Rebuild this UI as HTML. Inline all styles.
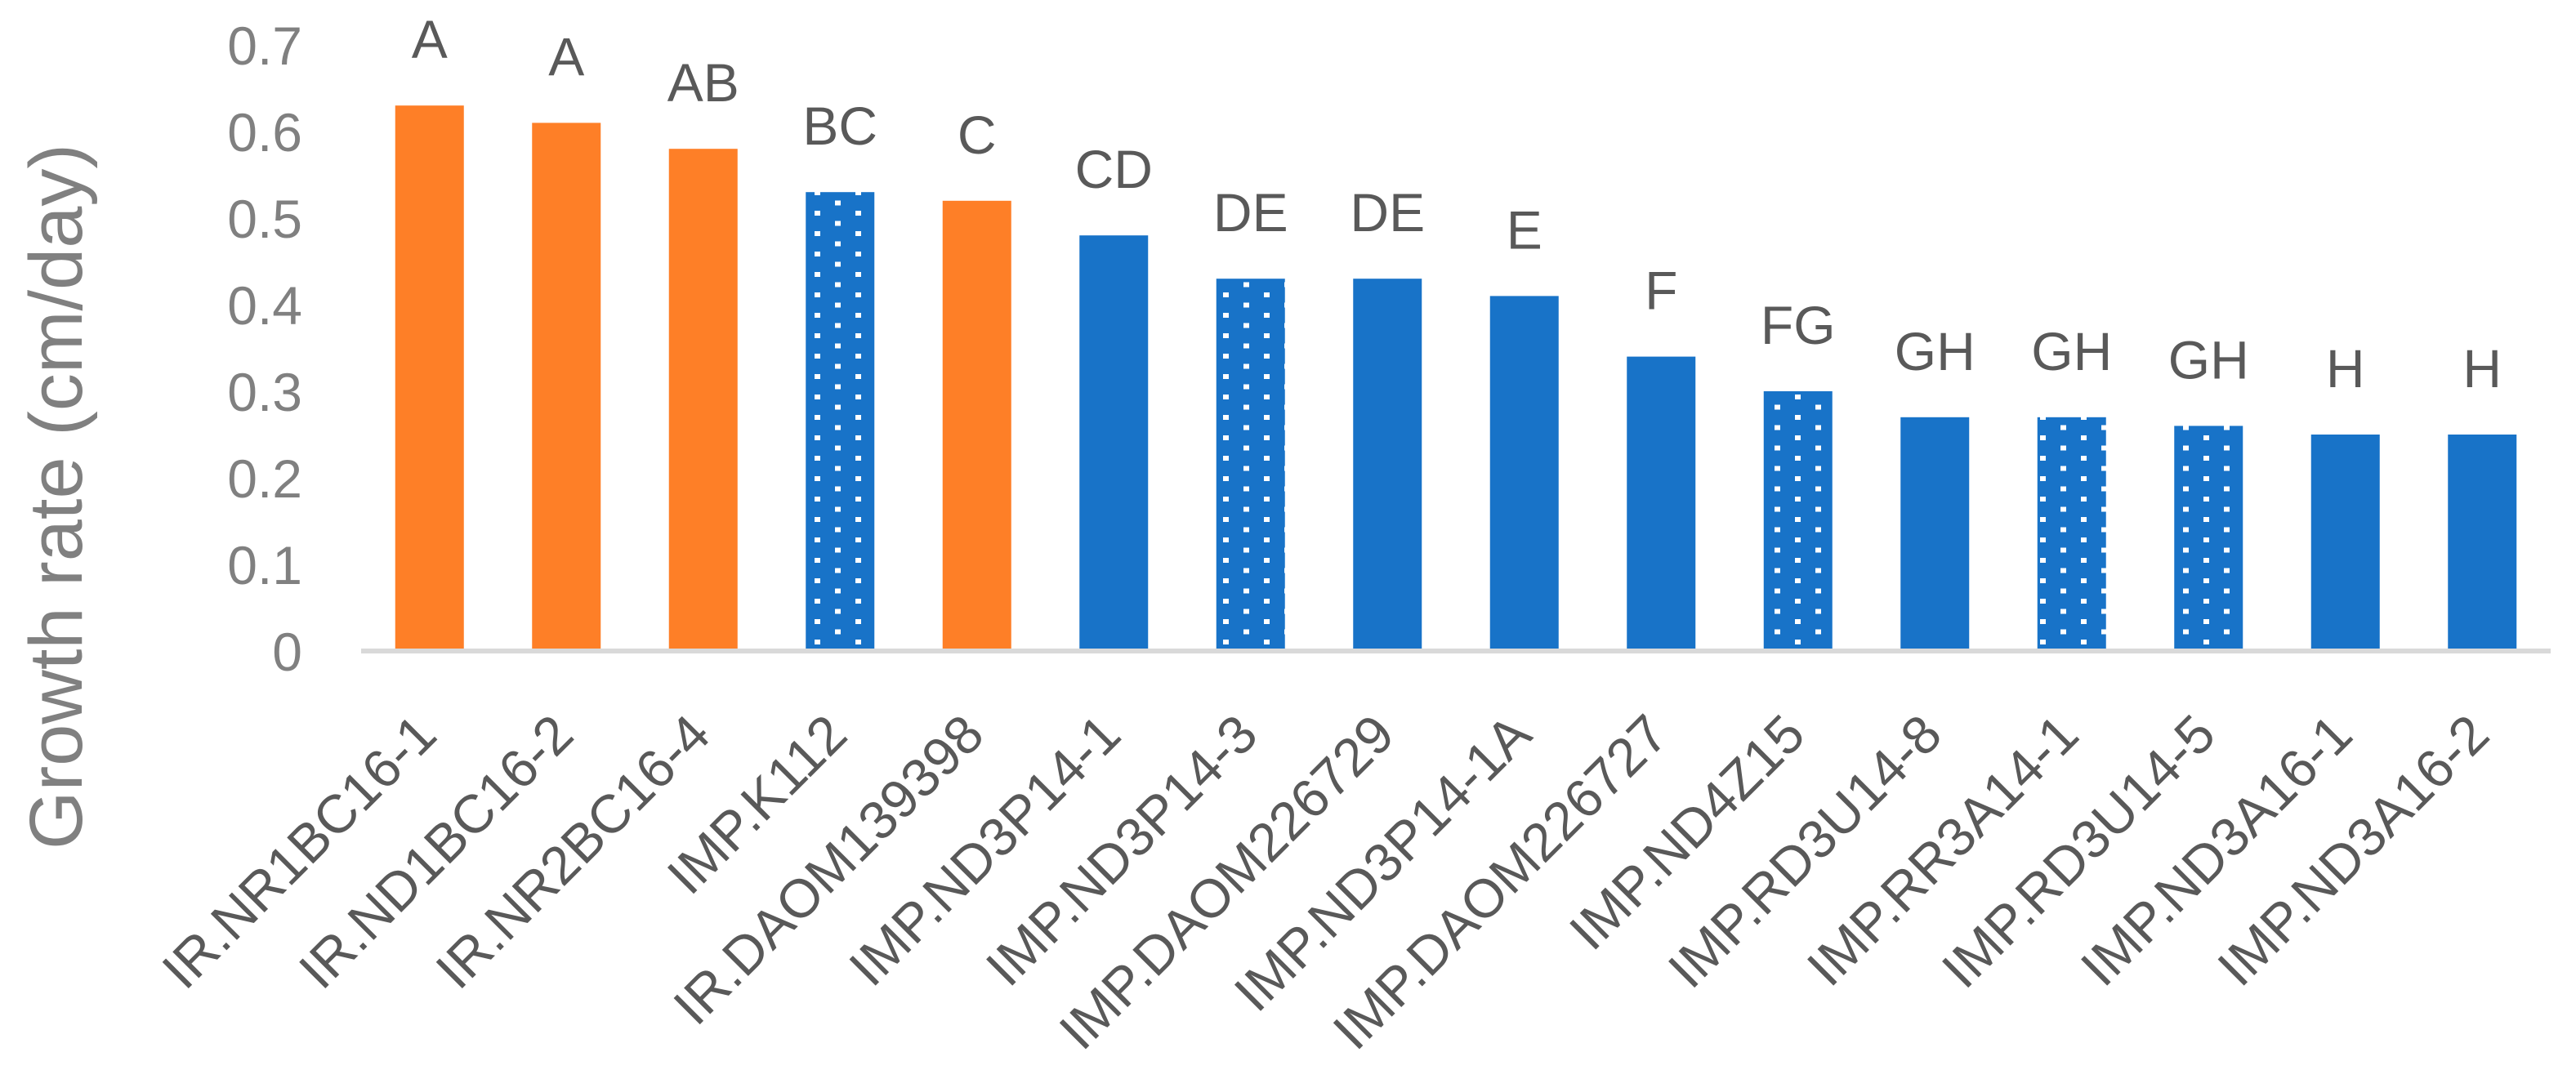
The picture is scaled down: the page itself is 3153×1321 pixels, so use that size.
<!DOCTYPE html>
<html><head><meta charset="utf-8"><style>
html,body{margin:0;padding:0;background:#fff;}
svg{display:block;font-family:"Liberation Sans",sans-serif;}
</style></head><body>
<svg id="chart" width="3153" height="1321" viewBox="0 0 3153 1321" xmlns="http://www.w3.org/2000/svg">
<defs>
<pattern id="dots" patternUnits="userSpaceOnUse" x="997" y="333" width="50" height="25">
<rect width="50" height="25" fill="#1873C8"/>
<rect x="0" y="0" width="7" height="6" fill="#fff"/>
<rect x="25" y="12.5" width="7" height="6" fill="#fff"/>
</pattern>
</defs>
<text transform="translate(100,608) rotate(-90)" text-anchor="middle" font-size="92" fill="#808080">Growth rate (cm/day)</text>
<g id="yticks"></g>
<g id="bars"></g>
<line x1="442" y1="797" x2="3122" y2="797" stroke="#d9d9d9" stroke-width="6"/>
<g id="letters"></g>
<g id="xlabels"></g>
</svg>
<script>
const categories = ["IR.NR1BC16-1","IR.ND1BC16-2","IR.NR2BC16-4","IMP.K112","IR.DAOM139398","IMP.ND3P14-1","IMP.ND3P14-3","IMP.DAOM226729","IMP.ND3P14-1A","IMP.DAOM226727","IMP.ND4Z15","IMP.RD3U14-8","IMP.RR3A14-1","IMP.RD3U14-5","IMP.ND3A16-1","IMP.ND3A16-2"];
const values = [0.63,0.61,0.58,0.53,0.52,0.48,0.43,0.43,0.41,0.34,0.30,0.27,0.27,0.26,0.25,0.25];
const groupLetters = ["A","A","AB","BC","C","CD","DE","DE","E","F","FG","GH","GH","GH","H","H"];
const barType = ["IR","IR","IR","dot","IR","IMP","dot","IMP","IMP","IMP","dot","IMP","dot","dot","IMP","IMP"];
const yTicks = [0,0.1,0.2,0.3,0.4,0.5,0.6,0.7];
const yTickLabels = ["0","0.1","0.2","0.3","0.4","0.5","0.6","0.7"];

const NS="http://www.w3.org/2000/svg";
const x0=442,x1=3122,base=797,perUnit=1060;
const band=(x1-x0)/categories.length;
const y=v=>base-v*perUnit;
const xc=i=>x0+band*(i+0.5);
const fills={IR:"#FE7F27",IMP:"#1873C8",dot:"url(#dots)"};
const gy=document.getElementById('yticks');
yTicks.forEach((t,i)=>{
  const el=document.createElementNS(NS,'text');
  
  
  el.setAttribute('x',370);el.setAttribute('y',y(t)+24);
  el.setAttribute('text-anchor','end');el.setAttribute('font-size','66');el.setAttribute('fill','#808080');
  el.textContent=yTickLabels[i];gy.appendChild(el);
});
const gb=document.getElementById('bars'),gl=document.getElementById('letters'),gx=document.getElementById('xlabels');
categories.forEach((c,i)=>{
  const r=document.createElementNS(NS,'rect');
  
  
  r.setAttribute('x',xc(i)-42);r.setAttribute('width',84);
  r.setAttribute('y',y(values[i]));r.setAttribute('height',base-y(values[i]));
  r.setAttribute('fill',fills[barType[i]]);gb.appendChild(r);
  const t=document.createElementNS(NS,'text');
  
  
  t.setAttribute('x',xc(i));t.setAttribute('y',y(values[i])-58);
  t.setAttribute('text-anchor','middle');t.setAttribute('font-size','66');t.setAttribute('fill','#595959');
  t.textContent=groupLetters[i];gl.appendChild(t);
  const l=document.createElementNS(NS,'text');
  
  
  l.setAttribute('transform','translate('+(xc(i)+12)+',903) rotate(-45)');
  l.setAttribute('text-anchor','end');l.setAttribute('font-size','66');l.setAttribute('fill','#595959');
  l.textContent=c;gx.appendChild(l);
});
</script>
</body></html>
